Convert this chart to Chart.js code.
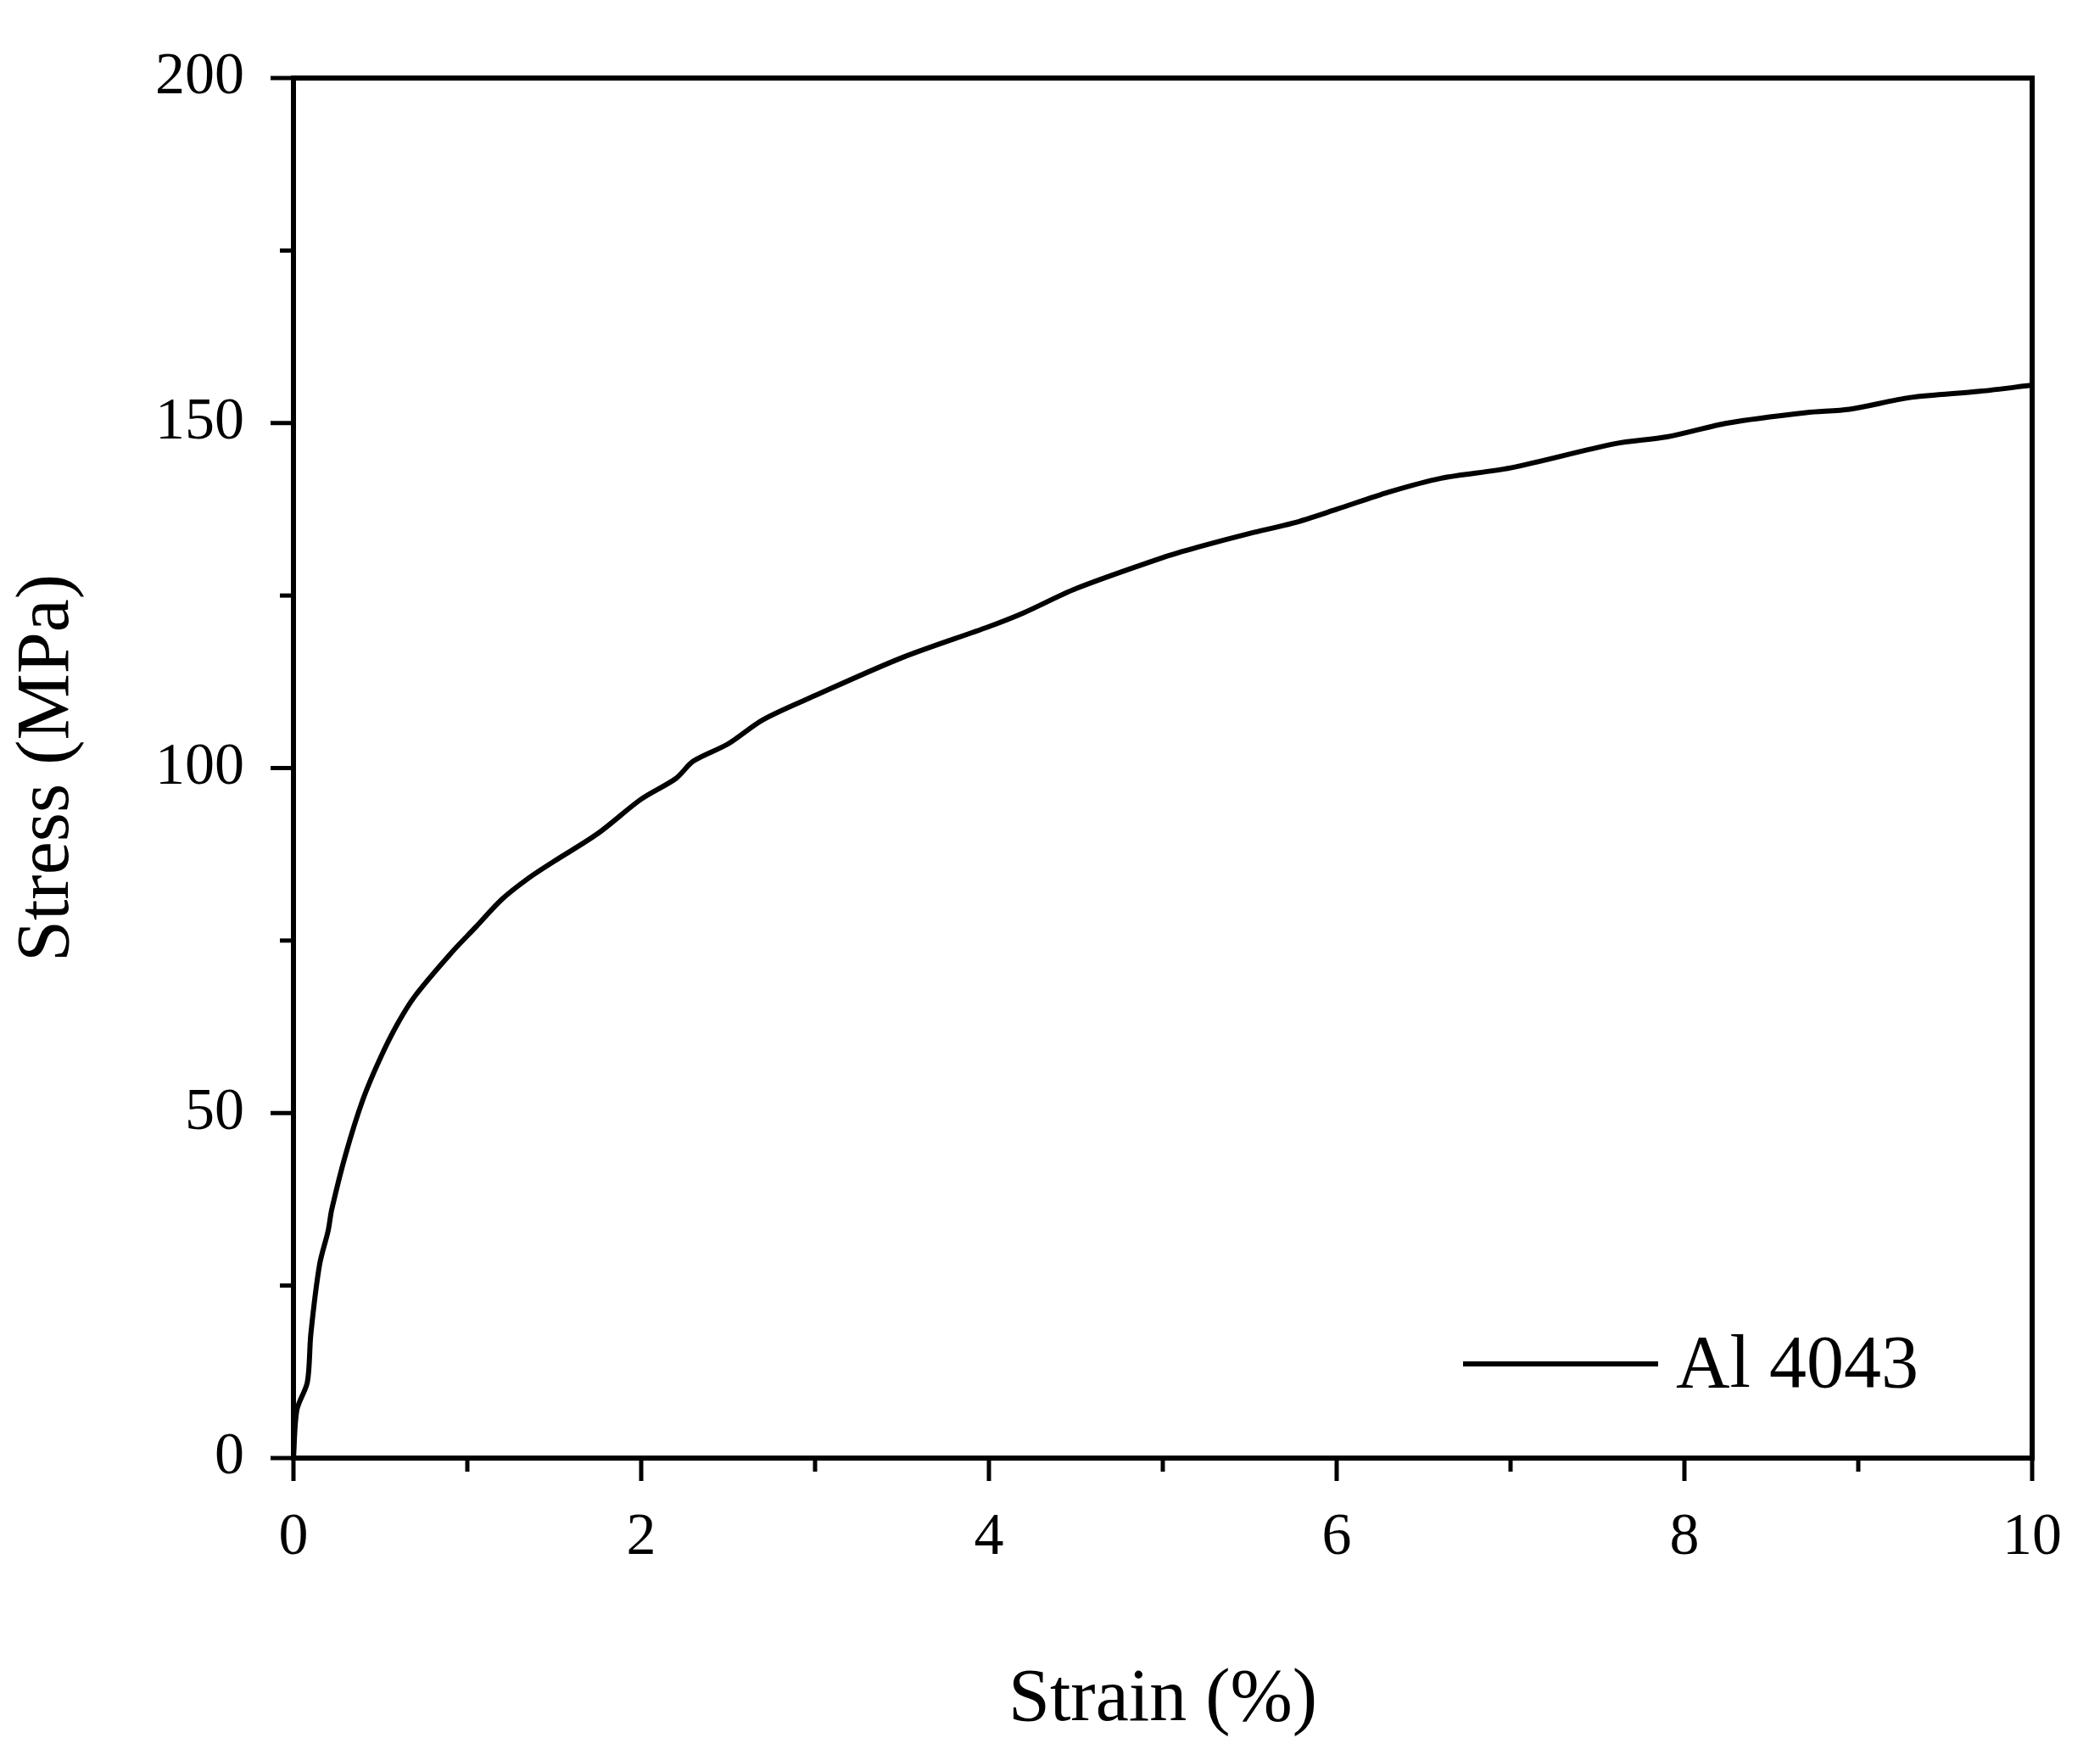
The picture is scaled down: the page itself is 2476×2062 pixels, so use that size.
<!DOCTYPE html>
<html>
<head>
<meta charset="utf-8">
<script src="https://cdn.jsdelivr.net/npm/chart.js@4"></script>
<style>body{margin:0;background:#fff}</style>
</head>
<body>
<canvas id="c" width="2476" height="2062"></canvas>
<script>
// données
const strain = [0, 0.02, 0.08, 0.1, 0.15, 0.2, 0.22, 0.3, 0.4, 0.5, 0.6, 0.7, 0.9, 1.05, 1.2, 1.35, 1.5, 1.75, 2.0, 2.2, 2.3, 2.5, 2.7, 3.0, 3.5, 4.0, 4.2, 4.5, 5.0, 5.2, 5.5, 5.75, 6.0, 6.3, 6.6, 7.0, 7.6, 7.9, 8.25, 8.7, 8.95, 9.3, 9.7, 10];
const stress = [0, 7, 11, 18, 28, 33, 36, 44, 52, 58, 63, 67, 73, 77, 81, 84, 86.5, 90.5, 95.5, 98.5, 101, 103.5, 107, 110.5, 116, 120.5, 122.5, 126, 130.5, 132, 134, 135.5, 137.5, 140, 142, 143.5, 147, 148, 150, 151.5, 152, 153.7, 154.6, 155.5];
const xTicks = [0, 2, 4, 6, 8, 10];
const yTicks = [0, 50, 100, 150, 200];
const seriesName = "Al 4043";

const font = "'Liberation Serif', 'Times New Roman', serif";

// cadre, graduations et légende
const decor = {
    id: "decor",
    afterDraw(chart) {
        const ctx = chart.ctx, a = chart.chartArea;
        const xs = chart.scales.x, ys = chart.scales.y;
        ctx.save();
        ctx.strokeStyle = "#000";
        ctx.lineWidth = 6;
        ctx.strokeRect(a.left, a.top, a.right - a.left, a.bottom - a.top);
        ctx.lineWidth = 5;
        for (let v = 0; v <= 10; v += 1) {
            const p = xs.getPixelForValue(v), len = v % 2 === 0 ? 27 : 16;
            ctx.beginPath(); ctx.moveTo(p, a.bottom); ctx.lineTo(p, a.bottom + len); ctx.stroke();
        }
        for (let v = 0; v <= 200; v += 25) {
            const p = ys.getPixelForValue(v), len = v % 50 === 0 ? 27 : 16;
            ctx.beginPath(); ctx.moveTo(a.left, p); ctx.lineTo(a.left - len, p); ctx.stroke();
        }
        // légende
        ctx.lineWidth = 6;
        ctx.beginPath(); ctx.moveTo(1725, 1608); ctx.lineTo(1955, 1608); ctx.stroke();
        ctx.fillStyle = "#000";
        ctx.font = "88px " + font;
        ctx.textBaseline = "middle";
        ctx.fillText(seriesName, 1976, 1612);
        ctx.restore();
    }
};

new Chart(document.getElementById("c"), {
    type: "line",
    data: {
        datasets: [{
            label: seriesName,
            data: strain.map((x, i) => ({ x: x, y: stress[i] })),
            borderColor: "#000",
            borderWidth: 6,
            pointRadius: 0,
            tension: 0.3,
            fill: false
        }]
    },
    options: {
        responsive: false,
        devicePixelRatio: 1,
        animation: false,
        layout: { padding: { top: 75, right: 79, left: 0, bottom: 0 } },
        plugins: { legend: { display: false }, tooltip: { enabled: false } },
        scales: {
            x: {
                type: "linear", min: 0, max: 10,
                afterFit: s => { s.height = 343; },
                afterBuildTicks: s => { s.ticks = xTicks.map(v => ({ value: v })); },
                grid: { display: false },
                border: { display: false },
                ticks: { color: "#000", font: { family: font, size: 70 }, padding: 45, maxRotation: 0 },
                title: { display: true, text: "Strain (%)", color: "#000", font: { family: font, size: 88 }, padding: { top: 60 } }
            },
            y: {
                type: "linear", min: 0, max: 200,
                afterFit: s => { s.width = 346; },
                afterBuildTicks: s => { s.ticks = yTicks.map(v => ({ value: v })); },
                grid: { display: false },
                border: { display: false },
                ticks: { color: "#000", font: { family: font, size: 70 }, padding: 50 },
                title: { display: true, text: "Stress (MPa)", color: "#000", font: { family: font, size: 88 }, padding: { bottom: 20 } }
            }
        }
    },
    plugins: [decor]
});
</script>
</body>
</html>
